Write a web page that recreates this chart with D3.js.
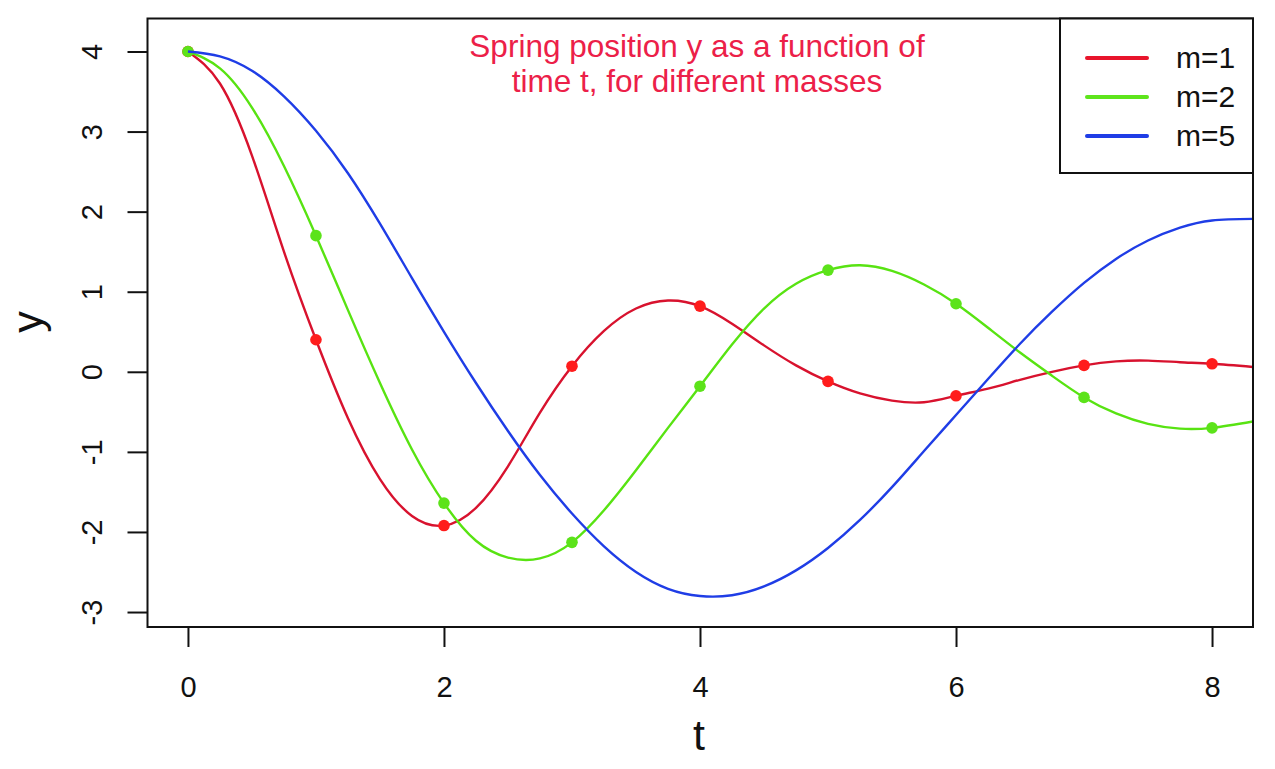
<!DOCTYPE html>
<html>
<head>
<meta charset="utf-8">
<script src="https://cdn.jsdelivr.net/npm/d3@7"></script>
<style>
  body { margin: 0; background: #fff; }
  svg { display: block; }
  text { font-family: "Liberation Sans", Arial, Helvetica, sans-serif; }
</style>
</head>
<body>
<svg id="chart" width="1275" height="769"></svg>
<script>
// ---- Data ----
const sampleT = [0,0.25,0.5,0.75,1,1.25,1.5,1.75,2,2.25,2.5,2.75,3,3.25,3.5,3.75,4,4.25,4.5,4.75,5,5.25,5.5,5.75,6,6.25,6.5,6.75,7,7.25,7.5,7.75,8,8.32];
const curveM1 = [4.00,3.60,2.70,1.50,0.40,-0.58,-1.34,-1.80,-1.92,-1.70,-1.18,-0.51,0.07,0.51,0.79,0.89,0.82,0.60,0.33,0.08,-0.12,-0.27,-0.36,-0.38,-0.30,-0.21,-0.10,0.00,0.08,0.13,0.14,0.12,0.10,0.06];
const curveM2 = [4.00,3.79,3.30,2.57,1.70,0.77,-0.14,-0.97,-1.64,-2.11,-2.32,-2.33,-2.13,-1.73,-1.23,-0.70,-0.18,0.34,0.79,1.10,1.27,1.33,1.26,1.09,0.85,0.55,0.24,-0.05,-0.32,-0.52,-0.65,-0.71,-0.70,-0.62];
const curveM5 = [4.00,3.94,3.76,3.44,3.01,2.48,1.85,1.17,0.50,-0.14,-0.74,-1.29,-1.77,-2.18,-2.50,-2.71,-2.80,-2.79,-2.68,-2.48,-2.20,-1.85,-1.44,-0.99,-0.54,-0.09,0.35,0.75,1.11,1.41,1.64,1.80,1.89,1.91];

const pointT  = [0,1,2,3,4,5,6,7,8];
const pointM1 = [4.00,0.40,-1.92,0.07,0.82,-0.12,-0.30,0.08,0.10];
const pointM2 = [4.00,1.70,-1.64,-2.13,-0.18,1.27,0.85,-0.32,-0.70];

const seriesNames = ["m=1","m=2","m=5"];
const xTicks = [0,2,4,6,8];
const yTicks = [-3,-2,-1,0,1,2,3,4];
const titleLines = ["Spring position y as a function of","time t, for different masses"];

// ---- Layout ----
const svg = d3.select("#chart");
const L = 147.5, R = 1253, T = 18.5, B = 627;
const x = d3.scaleLinear().domain([-0.316, 8.32]).range([L, R]);
const y = d3.scaleLinear().domain([-3.187, 4.412]).range([B, T]);

const colors = { line1: "#d8122e", pt1: "#ff1c1c", line2: "#58e312", pt2: "#5ce31a", line3: "#1f3de6" };
const legendColors = ["#e8152c", "#5ee51c", "#1f3de6"];
const fmt = d => String(d); // plain hyphen-minus like the original

svg.append("defs").append("clipPath").attr("id","clip")
  .append("rect").attr("x", L).attr("y", T).attr("width", R - L).attr("height", B - T);

const line = d3.line().x(d => x(d[0])).y(d => y(d[1])).curve(d3.curveNatural);
const g = svg.append("g").attr("clip-path","url(#clip)");

function drawLine(vals, col) {
  g.append("path").datum(sampleT.map((t,i) => [t, vals[i]]))
    .attr("d", line).attr("fill","none").attr("stroke", col).attr("stroke-width", 2.4);
}
function drawPts(vals, col) {
  g.selectAll(null).data(pointT.map((t,i) => [t, vals[i]])).enter().append("circle")
    .attr("cx", d => x(d[0])).attr("cy", d => y(d[1])).attr("r", 5.8).attr("fill", col);
}
drawLine(curveM1, colors.line1);
drawPts(pointM1, colors.pt1);
drawLine(curveM2, colors.line2);
drawPts(pointM2, colors.pt2);
drawLine(curveM5, colors.line3);

// ---- Box ----
svg.append("rect").attr("x", L).attr("y", T).attr("width", R - L).attr("height", B - T)
  .attr("fill","none").attr("stroke","#111").attr("stroke-width", 2);

// ---- Axes ----
const xAxis = svg.append("g").attr("transform", `translate(0,${B})`)
  .call(d3.axisBottom(x).tickValues(xTicks).tickSize(20).tickFormat(fmt));
xAxis.select(".domain").remove();
xAxis.selectAll("line").attr("stroke","#111").attr("stroke-width", 2);
xAxis.selectAll("text").attr("font-size", 29).attr("fill","#111")
  .attr("y", null).attr("dy", null).attr("transform", "translate(0,70)");

const yAxis = svg.append("g").attr("transform", `translate(${L},0)`)
  .call(d3.axisLeft(y).tickValues(yTicks).tickSize(20).tickFormat(fmt));
yAxis.select(".domain").remove();
yAxis.selectAll("line").attr("stroke","#111").attr("stroke-width", 2);
yAxis.selectAll("text")
  .attr("font-size", 29).attr("fill","#111")
  .attr("x", null).attr("dy", null)
  .attr("text-anchor","middle")
  .attr("transform", "translate(-46,0) rotate(-90)");

// ---- Axis labels ----
svg.append("text").attr("x", 699).attr("y", 750).attr("text-anchor","middle")
  .attr("font-size", 43).attr("fill","#111").text("t");
svg.append("text").attr("transform", "translate(42,322) rotate(-90)").attr("text-anchor","middle")
  .attr("font-size", 43).attr("fill","#111").text("y");

// ---- Title ----
svg.selectAll(".title").data(titleLines).enter().append("text")
  .attr("class","title")
  .attr("x", 697).attr("y", (d,i) => 57 + i * 35)
  .attr("text-anchor","middle").attr("font-size", 31.5).attr("fill","#ec2048")
  .text(d => d);

// ---- Legend ----
const lg = svg.append("g");
lg.append("rect").attr("x", 1060).attr("y", T).attr("width", R - 1060).attr("height", 173 - T)
  .attr("fill","#fff").attr("stroke","#111").attr("stroke-width", 2);
const rows = lg.selectAll(".row").data(seriesNames).enter().append("g")
  .attr("transform", (d,i) => `translate(0,${58 + i * 39})`);
rows.append("line").attr("x1", 1087).attr("x2", 1147).attr("y1", 0).attr("y2", 0)
  .attr("stroke", (d,i) => legendColors[i]).attr("stroke-width", 4).attr("stroke-linecap","round");
rows.append("text").attr("x", 1176).attr("y", 10).attr("font-size", 30).attr("fill","#111").text(d => d);
</script>
</body>
</html>
